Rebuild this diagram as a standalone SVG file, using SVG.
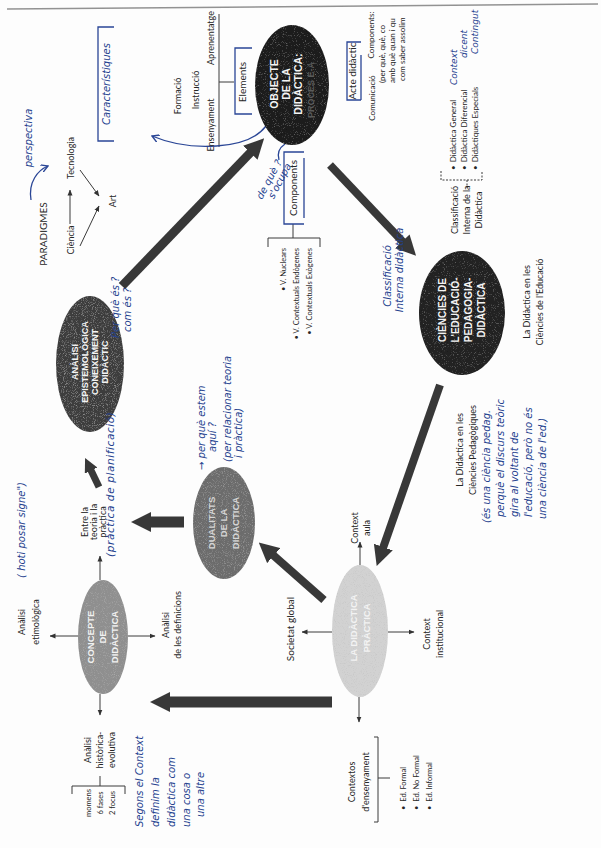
<svg xmlns="http://www.w3.org/2000/svg" width="601" height="848" viewBox="0 0 601 848">
<style>
.t{font-family:Lato,"Liberation Sans",sans-serif;fill:#262626;font-size:9px}
.sm{font-size:7.5px}
.m8{font-size:8px}
.b10{font-size:10px}
.h{font-family:"DejaVu Sans","Liberation Sans",sans-serif;font-style:oblique;fill:#25428f;font-size:10px}
.n{font-family:"Liberation Sans",Arial,sans-serif;font-weight:bold;font-size:9.5px;text-anchor:middle}
.c{text-anchor:middle}
.e{text-anchor:end}
.ln{stroke:#3a3a3a;stroke-width:1;fill:none}
.th{stroke:#383838;fill:none}
.bl{stroke:#2a4696;stroke-width:1.3;fill:none}
.g{filter:url(#grain)}
.gd{filter:url(#grainDark)}
</style>
<defs>
<filter id="grain" x="-5%" y="-5%" width="110%" height="110%">
<feTurbulence type="fractalNoise" baseFrequency="1.1" numOctaves="1" seed="4" result="noise"/>
<feColorMatrix in="noise" type="matrix" values="0 0 0 0 0.5  0 0 0 0 0.5  0 0 0 0 0.5  0 0 0 1.8 -0.95" result="dots"/>
<feComposite in="dots" in2="SourceGraphic" operator="in" result="d2"/>
<feMerge><feMergeNode in="SourceGraphic"/><feMergeNode in="d2"/></feMerge>
</filter>
<filter id="grainDark" x="-5%" y="-5%" width="110%" height="110%">
<feTurbulence type="fractalNoise" baseFrequency="1.1" numOctaves="1" seed="7" result="noise"/>
<feColorMatrix in="noise" type="matrix" values="0 0 0 0 0.35  0 0 0 0 0.35  0 0 0 0 0.35  0 0 0 1.6 -0.95" result="dots"/>
<feComposite in="dots" in2="SourceGraphic" operator="in" result="d2"/>
<feMerge><feMergeNode in="SourceGraphic"/><feMergeNode in="d2"/></feMerge>
</filter>
<marker id="big" markerUnits="userSpaceOnUse" viewBox="0 0 20 20" markerWidth="20" markerHeight="20" refX="1" refY="10" orient="auto"><path d="M0,0 L20,10 L0,20 z" fill="#383838"/></marker>
<marker id="mid" markerUnits="userSpaceOnUse" viewBox="0 0 14 14" markerWidth="14" markerHeight="14" refX="1" refY="7" orient="auto"><path d="M0,0 L14,7 L0,14 z" fill="#383838"/></marker>
<marker id="sa" markerUnits="userSpaceOnUse" viewBox="0 0 6 6" markerWidth="6" markerHeight="6" refX="5.5" refY="3" orient="auto"><path d="M0,0.5 L6,3 L0,5.5 z" fill="#333"/></marker>
<marker id="ba" markerUnits="userSpaceOnUse" viewBox="0 0 8 8" markerWidth="8" markerHeight="8" refX="7" refY="4" orient="auto"><path d="M0,0 L7,4 L0,8" fill="none" stroke="#2a4696" stroke-width="1.4"/></marker>
</defs>
<rect width="601" height="848" fill="#fdfdfd"/>
<line x1="7" y1="9" x2="598" y2="4" stroke="#666" stroke-width="1.5" opacity="0.7"/>

<g id="connectors">
<line class="th" x1="122" y1="286" x2="251" y2="152" stroke-width="9" marker-end="url(#big)"/>
<line class="th" x1="330" y1="165" x2="403" y2="242" stroke-width="8" marker-end="url(#big)"/>
<line class="th" x1="440" y1="385" x2="383" y2="548" stroke-width="8" marker-end="url(#big)"/>
<line class="th" x1="332" y1="702" x2="169" y2="702" stroke-width="11" marker-end="url(#big)"/>
<line class="th" x1="324" y1="600" x2="273" y2="555" stroke-width="8" marker-end="url(#big)"/>
<line class="th" x1="184" y1="522" x2="150" y2="522" stroke-width="11" marker-end="url(#big)"/>
<line class="th" x1="99" y1="487" x2="90.7" y2="469.7" stroke-width="7" marker-end="url(#mid)"/>
<line class="ln" x1="100" y1="580" x2="100" y2="556" marker-end="url(#sa)"/>
<line class="ln" x1="78" y1="636" x2="50" y2="636" marker-end="url(#sa)"/>
<line class="ln" x1="128" y1="636" x2="155" y2="636" marker-end="url(#sa)"/>
<line class="ln" x1="100" y1="694" x2="100" y2="715" marker-end="url(#sa)"/>
<line class="ln" x1="360" y1="565" x2="360" y2="542" marker-end="url(#sa)"/>
<line class="ln" x1="332" y1="632" x2="302" y2="632" marker-end="url(#sa)"/>
<line class="ln" x1="388" y1="632" x2="414" y2="632" marker-end="url(#sa)"/>
<line class="ln" x1="359" y1="697" x2="359" y2="722" marker-end="url(#sa)"/>
<line class="ln" x1="70" y1="224" x2="70" y2="190" marker-end="url(#sa)"/>
<line class="ln" x1="80" y1="246" x2="99" y2="206" marker-end="url(#sa)"/>
<line class="ln" x1="80" y1="170" x2="99" y2="196" marker-end="url(#sa)"/>
<path class="ln" d="M219,14 L219,147 M219,82 L234,82"/>
<path class="ln" d="M293,224 L293,238 M268,247 L268,238 L320,238 L320,247"/>
<path class="ln" d="M441,171 L441,180 L482,180 L482,171 M467,180 L467,188" stroke-dasharray="2,1.5"/>
<path class="ln" d="M72,794 L72,786 L125,786 L125,794 M100,776 L100,786"/>
<path class="ln" d="M374,737 L378,737 L378,822 L374,822 M378,778 L390,778"/>
<path class="bl" d="M31,200 C28,182 38,170 48,166" marker-end="url(#ba)"/>
<path class="bl" d="M266,126 C248,150 190,152 152,136" marker-end="url(#ba)"/>
<path class="bl" d="M285,144 Q276,150 279,160"/>
<path class="bl" d="M114,27 L98,27 L98,141 L114,141"/>
<path class="bl" d="M252,48 L235,48 L235,114 L252,114"/>
<path class="bl" d="M304,152 L284,152 L284,224 L304,224 M304,158 L304,218"/>
<path class="bl" d="M361,42 L347,42 L347,100 L361,100 M361,55 L361,100"/>
</g>

<g id="n-analisi">
<ellipse class="g" cx="90" cy="364" rx="34" ry="68" fill="#3d3d3d"/>
<text class="n" fill="#f4f4f4" style="font-size:9px" transform="translate(78.2,362) rotate(-90)"><tspan x="0">ANÀLISI</tspan><tspan x="0" dy="10">EPISTEMOLÒGICA</tspan><tspan x="0" dy="10">CONEIXEMENT</tspan><tspan x="0" dy="10">DIDÀCTIC</tspan></text>
</g>
<g id="n-objecte">
<ellipse class="gd" cx="292" cy="85" rx="37" ry="60" fill="#1b1b1b"/>
<text class="n" fill="#f4f4f4" style="font-size:10.5px" transform="translate(277.7,84) rotate(-90)"><tspan x="0">OBJECTE</tspan><tspan x="0" dy="12">DE LA</tspan><tspan x="0" dy="12">DIDÀCTICA:</tspan></text>
<text class="n" fill="#5a5a5a" style="font-size:9px" transform="translate(314,90) rotate(-90)">PROCÉS E-A</text>
</g>
<g id="n-ciencies">
<ellipse class="gd" cx="462" cy="313" rx="43" ry="62" fill="#202020"/>
<text class="n" fill="#f4f4f4" style="font-size:10px" transform="translate(445.5,310) rotate(-90)"><tspan x="0">CIÈNCIES DE</tspan><tspan x="0" dy="13">L'EDUCACIÓ-</tspan><tspan x="0" dy="13">PEDAGOGIA-</tspan><tspan x="0" dy="13">DIDÀCTICA</tspan></text>
</g>
<g id="n-concepte">
<ellipse class="g" cx="103" cy="637" rx="25" ry="57" fill="#8f8f8f"/>
<text class="n" fill="#f2f2f2" transform="translate(94.3,637) rotate(-90)"><tspan x="0">CONCEPTE</tspan><tspan x="0" dy="12">DE</tspan><tspan x="0" dy="12">DIDÀCTICA</tspan></text>
</g>
<g id="n-dualitats">
<ellipse class="g" cx="224" cy="523" rx="31" ry="56" fill="#6c6c6c"/>
<text class="n" fill="#d6d6d6" transform="translate(215.3,523) rotate(-90)"><tspan x="0">DUALITATS</tspan><tspan x="0" dy="12">DE LA</tspan><tspan x="0" dy="12">DIDÀCTICA</tspan></text>
</g>
<g id="n-practica">
<ellipse class="g" cx="360" cy="631" rx="28" ry="66" fill="#d2d2d2"/>
<text class="n" fill="#f3f3f3" transform="translate(357.3,628) rotate(-90)"><tspan x="0">LA DIDÀCTICA</tspan><tspan x="0" dy="13">PRÀCTICA</tspan></text>
</g>

<g id="labels">
<text class="t c b10" transform="translate(46.5,234) rotate(-90)">PARADIGMES</text>
<text class="t c" transform="translate(74.2,240) rotate(-90)">Ciència</text>
<text class="t c" transform="translate(74.2,158) rotate(-90)">Tecnologia</text>
<text class="t c" transform="translate(116.2,201) rotate(-90)">Art</text>
<text class="t c" transform="translate(181,96) rotate(-90)">Formació</text>
<text class="t c" transform="translate(199,90) rotate(-90)">Instrucció</text>
<text class="t c" transform="translate(214,125) rotate(-90)">Ensenyament</text>
<text class="t c" transform="translate(214,38) rotate(-90)">Aprenentatge</text>
<text class="t c b10" transform="translate(245.5,82) rotate(-90)">Elements</text>
<text class="t c b10" transform="translate(296.5,188) rotate(-90)">Components</text>
<text class="t e sm" transform="translate(285.6,248) rotate(-90)">•  V. Nuclears</text>
<text class="t e sm" transform="translate(298.6,248) rotate(-90)">•  V. Contextuals Endògenes</text>
<text class="t e sm" transform="translate(311.6,248) rotate(-90)">•  V. Contextuals Exògenes</text>
<text class="t c b10" transform="translate(355.5,71) rotate(-90)">Acte didàctic</text>
<text class="t c m8" transform="translate(374.8,98) rotate(-90)">Comunicació</text>
<text class="t c m8" transform="translate(373.8,35) rotate(-90)">Components:</text>
<text class="t m8" transform="translate(384.8,83) rotate(-90)">(per què, què, co</text>
<text class="t m8" transform="translate(394.8,83) rotate(-90)">amb què quan i qu</text>
<text class="t m8" transform="translate(404.8,81) rotate(-90)">com saber assolim</text>
<text class="t m8" transform="translate(455.8,170) rotate(-90)">•<tspan dx="3">Didàctica General</tspan></text>
<text class="t m8" transform="translate(466.8,170) rotate(-90)">•<tspan dx="3">Didàctica Diferencial</tspan></text>
<text class="t m8" transform="translate(477.8,170) rotate(-90)">•<tspan dx="3">Didàctiques Especials</tspan></text>
<text class="t c" transform="translate(458.2,210) rotate(-90)"><tspan x="0">Classificació</tspan><tspan x="0" dy="12">Interna de la</tspan><tspan x="0" dy="12">Didàctica</tspan></text>
<text class="t c" transform="translate(530.2,302) rotate(-90)"><tspan x="0">La Didàctica en les</tspan><tspan x="0" dy="13">Ciències de l'Educació</tspan></text>
<text class="t c" transform="translate(463.2,450) rotate(-90)"><tspan x="0">La Didàctica en les</tspan><tspan x="0" dy="13">Ciències Pedagògiques</tspan></text>
<text class="t c" transform="translate(358.2,528) rotate(-90)"><tspan x="0">Context</tspan><tspan x="0" dy="12">aula</tspan></text>
<text class="t c b10" transform="translate(293.5,629) rotate(-90)">Societat global</text>
<text class="t c" transform="translate(430.2,634) rotate(-90)"><tspan x="0">Context</tspan><tspan x="0" dy="13">institucional</tspan></text>
<text class="t c" transform="translate(355.2,782) rotate(-90)"><tspan x="0">Contextos</tspan><tspan x="0" dy="14">d'ensenyament</tspan></text>
<text class="t sm" transform="translate(405.6,810) rotate(-90)">•<tspan dx="4">Ed. Formal</tspan></text>
<text class="t sm" transform="translate(418.6,810) rotate(-90)">•<tspan dx="4">Ed. No Formal</tspan></text>
<text class="t sm" transform="translate(431.6,810) rotate(-90)">•<tspan dx="4">Ed. Informal</tspan></text>
<text class="t c" transform="translate(25.2,622) rotate(-90)"><tspan x="0">Anàlisi</tspan><tspan x="0" dy="14">etimològica</tspan></text>
<text class="t c" transform="translate(169.2,625) rotate(-90)"><tspan x="0">Anàlisi</tspan><tspan x="0" dy="12">de les definicions</tspan></text>
<text class="t c" transform="translate(88.2,522) rotate(-90)"><tspan x="0">Entre la</tspan><tspan x="0" dy="9">teoria i la</tspan><tspan x="0" dy="9">pràctica</tspan></text>
<text class="t c" transform="translate(91.2,750) rotate(-90)"><tspan x="0">Anàlisi</tspan><tspan x="0" dy="12">històrica-</tspan><tspan x="0" dy="12">evolutiva</tspan></text>
<text class="t c sm" transform="translate(90.6,803) rotate(-90)"><tspan x="0">momens</tspan><tspan x="0" dy="12">6 fases</tspan><tspan x="0" dy="12">2 focus</tspan></text>
</g>

<g id="notes">
<text class="h c" transform="translate(32,138) rotate(-90)">perspectiva</text>
<text class="h c" transform="translate(109.5,84) rotate(-90)">Característiques</text>
<text class="h" transform="translate(119,338) rotate(-90)"><tspan x="0">Per què és ?</tspan><tspan x="6" dy="12">com és ?</tspan></text>
<text class="h c" transform="translate(25,530) rotate(-90)">( hoti posar signe")</text>
<text class="h" style="font-size:10.5px;letter-spacing:0.6px" transform="translate(114,557) rotate(-90)">(pràctica de planificació)</text>
<text class="h" transform="translate(205,470) rotate(-90)"><tspan x="0">→ per què estem</tspan><tspan x="18" dy="11">aquí ?</tspan></text>
<text class="h" transform="translate(231,462) rotate(-90)"><tspan x="0">(per relacionar teoria</tspan><tspan x="4" dy="11">i pràctica)</tspan></text>
<text class="h" transform="translate(262,200) rotate(-62)"><tspan x="0">de què ?</tspan><tspan x="6" dy="10">s'ocupa</tspan></text>
<text class="h" style="font-size:9px" transform="translate(456.5,85) rotate(-90)">Context</text>
<text class="h" style="font-size:9px" transform="translate(467,58) rotate(-90)">dicent</text>
<text class="h" style="font-size:9px" transform="translate(478,54) rotate(-90)">Contingut</text>
<text class="h c" transform="translate(391,276) rotate(-90)"><tspan x="0">Classificació</tspan><tspan x="6" dy="12">Interna didàctica</tspan></text>
<text class="h" transform="translate(490,523) rotate(-90)"><tspan x="0">(és una ciència pedag.</tspan><tspan x="6" dy="14">perquè el discurs teòric</tspan><tspan x="6" dy="14">gira al voltant de</tspan><tspan x="6" dy="14">l'educació, però no és</tspan><tspan x="4" dy="14">una ciència de l'ed.)</tspan></text>
<text class="h" transform="translate(143,827) rotate(-90)"><tspan x="0">Segons el Context</tspan><tspan x="0" dy="16">definim la</tspan><tspan x="0" dy="16">didàctica com</tspan><tspan x="0" dy="15">una cosa o</tspan><tspan x="10" dy="14">una altre</tspan></text>
</g>
</svg>
